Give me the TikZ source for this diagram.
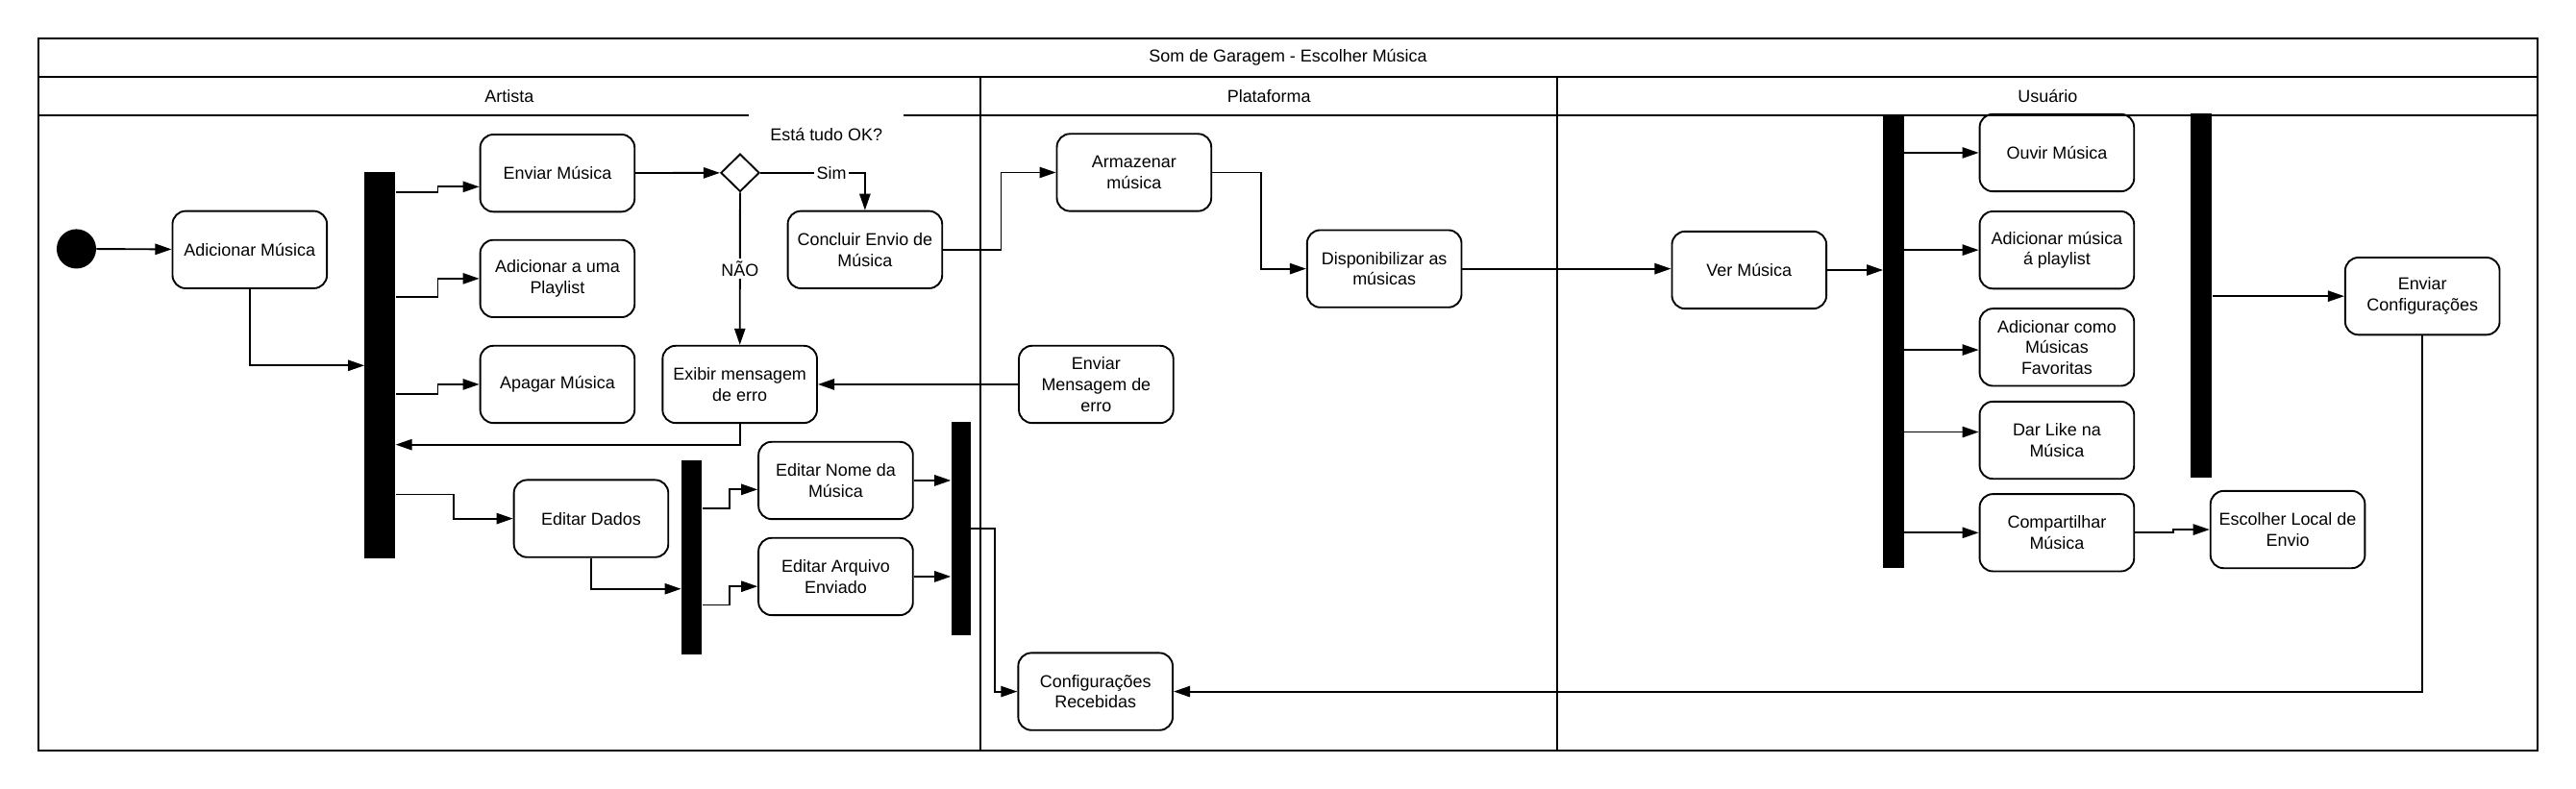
\documentclass[tikz,border=0pt]{standalone}
\usepackage{fontspec}
\setmainfont{Liberation Sans}
\usetikzlibrary{shapes.geometric,arrows.meta}

\tikzset{
    action/.style={draw, line width=1.1pt, rounded corners=8pt, minimum width=94pt, minimum height=47pt, align=center, inner sep=2pt},
    forkbar/.style={fill=black, inner sep=0pt},
    flow/.style={line width=1.1pt, -{Triangle[length=10pt,width=6.6pt]}},
    lbl/.style={fill=white, inner sep=1.5pt},
}

\begin{document}
\begin{tikzpicture}[x=1pt, y=-1pt, font=\fontsize{10.5}{12.7}\selectfont]
    \useasboundingbox (0,0) rectangle (1568,480);

    % Lanes
    \draw[line width=1.3pt] (23.4,23.4) rectangle (1544.8,457);
    \draw[line width=1.3pt] (23.4,46.8) -- (1544.8,46.8);
    \draw[line width=1.3pt] (23.4,70.2) -- (1544.8,70.2);
    \draw[line width=1.05pt] (596.8,46.8) -- (596.8,457);
    \draw[line width=1.05pt] (948,46.8) -- (948,457);
    \node (title) at (784,35.1) {Som de Garagem - Escolher Música};
    \node (artista) at (310,58.5) {Artista};
    \node (plataforma) at (772.4,58.5) {Plataforma};
    \node (usuario) at (1246.4,58.5) {Usuário};

    % Artista
    \node[circle, fill=black, minimum size=24pt, inner sep=0pt] (start) at (46.5,151.5) {};
    \node[action] (addmus) at (152,152) {Adicionar Música};
    \node[forkbar, minimum width=18.6pt, minimum height=235pt] (fork1) at (231.3,222.5) {};
    \node[action] (enviar) at (339.3,105.4) {Enviar Música};
    \node[action] (playlist) at (339.3,169.6) {Adicionar a uma\\Playlist};
    \node[action] (apagar) at (339.3,234) {Apagar Música};
    \node[action] (editdados) at (359.8,315.7) {Editar Dados};
    \node[draw, diamond, line width=1.1pt, minimum width=23.5pt, minimum height=23pt, inner sep=0pt] (check) at (450.5,105.2) {};
    \node[fill=white, minimum width=94pt, minimum height=26pt] (okq) at (503,82) {Está tudo OK?};
    \node[action] (concluir) at (526.5,152) {Concluir Envio de\\Música};
    \node[action] (exibir) at (450.3,234) {Exibir mensagem\\de erro};
    \node[forkbar, minimum width=12.4pt, minimum height=118pt] (fork2) at (421,339.3) {};
    \node[action] (editnome) at (508.7,292.5) {Editar Nome da\\Música};
    \node[action] (editarq) at (508.7,351) {Editar Arquivo\\Enviado};
    \node[forkbar, minimum width=12pt, minimum height=129.6pt] (fork3) at (585,321.8) {};

    % Plataforma
    \node[action] (armazenar) at (690.3,105) {Armazenar\\música};
    \node[action] (dispon) at (842.6,163.6) {Disponibilizar as\\músicas};
    \node[action] (enviarmsg) at (667.2,234) {Enviar\\Mensagem de\\erro};
    \node[action] (confrec) at (666.8,421) {Configurações\\Recebidas};

    % Usuario
    \node[action] (vermus) at (1064.7,164.4) {Ver Música};
    \node[forkbar, minimum width=12.6pt, minimum height=276pt] (fork4) at (1152.7,208) {};
    \node[action] (ouvir) at (1252,93) {Ouvir Música};
    \node[action] (addplay) at (1252,152.2) {Adicionar música\\á playlist};
    \node[action] (favoritas) at (1252,211.4) {Adicionar como\\Músicas\\Favoritas};
    \node[action] (like) at (1252,268) {Dar Like na\\Música};
    \node[action] (compart) at (1252,324.3) {Compartilhar\\Música};
    \node[action] (escolher) at (1392.5,322.4) {Escolher Local de\\Envio};
    \node[forkbar, minimum width=12.8pt, minimum height=222pt] (fork5) at (1340,180) {};
    \node[action] (enviarconf) at (1474.5,180.3) {Enviar\\Configurações};

    % Flows in Artista
    \draw[flow] (start) -- (addmus);
    \draw[flow] (addmus) |- (fork1);
    \draw[flow] (fork1.east |- 0,117) -- ++(25.7,0) |- ([yshift=-8.3pt]enviar.west);
    \draw[flow] (fork1.east |- 0,181) -- ++(25.7,0) |- (playlist);
    \draw[flow] (fork1.east |- 0,240) -- ++(25.7,0) |- (apagar);
    \draw[flow] (fork1.east |- 0,301) -- ++(35.2,0) |- (editdados);
    \draw[flow] (enviar) -- (check);
    \draw[flow] (check) -| node[lbl, pos=0.34] (sim) {Sim} (concluir);
    \draw[flow] (check) -- node[lbl] (nao) {NÃO} (exibir);
    \draw[flow] (exibir) |- (fork1.east |- 0,270.7);
    \draw[flow] (editdados) |- (fork2.west |- 0,358.5);
    \draw[flow] (fork2.east |- 0,309.7) -- ++(16.8,0) |- ([yshift=-5.5pt]editnome.west);
    \draw[flow] (fork2.east |- 0,368.3) -- ++(16.8,0) |- ([yshift=-6pt]editarq.west);
    \draw[flow] (editnome) -- (editnome -| fork3.west);
    \draw[flow] (editarq) -- (editarq -| fork3.west);
    \draw[flow] (fork3.east |- 0,321.8) -- ++(14.6,0) |- (confrec);

    % Flows in Plataforma
    \draw[flow] (concluir.east) -- ++(35.3,0) |- (armazenar);
    \draw[flow] (armazenar.east) -- ++(29.9,0) |- (dispon);
    \draw[flow] (dispon) -- (dispon -| vermus.west);
    \draw[flow] (enviarmsg) -- (exibir);

    % Flows in Usuario
    \draw[flow] (vermus) -- (vermus -| fork4.west);
    \draw[flow] (fork4.east |- ouvir) -- (ouvir);
    \draw[flow] (fork4.east |- addplay) -- (addplay);
    \draw[flow] (fork4.east |- 0,213) -- (favoritas.west |- 0,213);
    \draw[flow] (fork4.east |- 0,263) -- (like.west |- 0,263);
    \draw[flow] (fork4.east |- compart) -- (compart);
    \draw[flow] (compart.east) -- ++(23.4,0) |- (escolher);
    \draw[flow] (fork5.east |- enviarconf) -- (enviarconf);
    \draw[flow] (enviarconf) |- (confrec);
\end{tikzpicture}
\end{document}
